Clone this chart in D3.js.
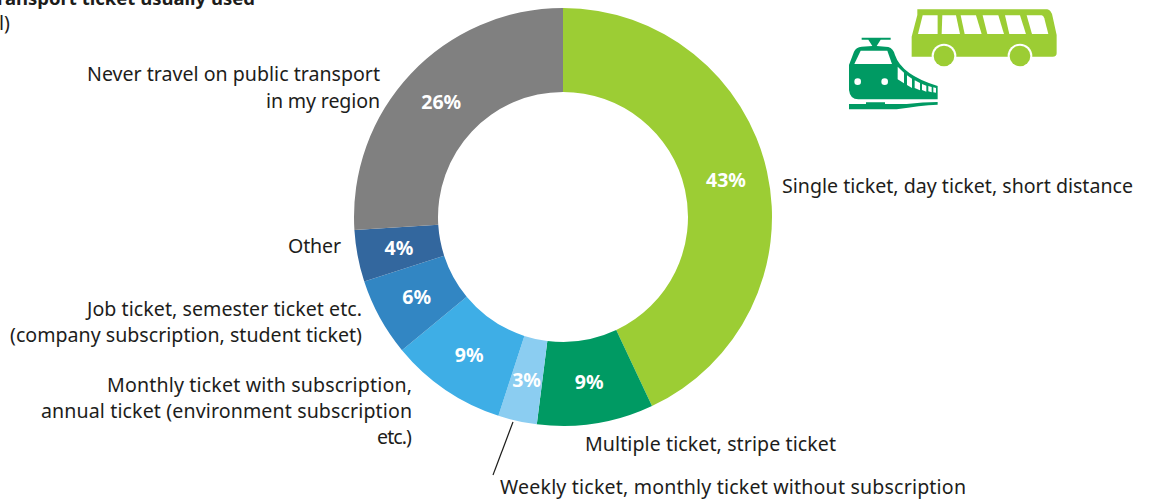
<!DOCTYPE html>
<html><head><meta charset="utf-8">
<script src="https://cdn.jsdelivr.net/npm/d3@7"></script>
<style>
html,body{margin:0;padding:0;background:#fff;overflow:hidden}
text{font-family:"Noto Sans","Open Sans",sans-serif;font-size:19.6px;fill:#1d1d1b}
</style></head><body>
<svg id="c" width="1150" height="500"></svg>
<script>
const categories=["Single ticket, day ticket, short distance","Multiple ticket, stripe ticket","Weekly ticket, monthly ticket without subscription","Monthly ticket with subscription, annual ticket (environment subscription etc.)","Job ticket, semester ticket etc. (company subscription, student ticket)","Other","Never travel on public transport in my region"];
const values=[43,9,3,9,6,4,26];
const colors=["#9ccd34","#009a63","#8bcdf1","#3eaee6","#3286c3","#33679e","#808080"];
const labelLines=[
 ["Single ticket, day ticket, short distance"],
 ["Multiple ticket, stripe ticket"],
 ["Weekly ticket, monthly ticket without subscription"],
 ["Monthly ticket with subscription,","annual ticket (environment subscription","etc.)"],
 ["Job ticket, semester ticket etc.","(company subscription, student ticket)"],
 ["Other"],
 ["Never travel on public transport","in my region"]];
const labelWidths=[[351],[251],[466],[305,371,35],[275,352],[53],[293,114]];
const labelX=[782,585,500,412,362,341,380];
const labelY=[193,451,494,392,316,253,81];
const labelAnchor=["start","start","start","end","end","end","end"];
const lineStep=[0,0,0,26,26,0,27];
const svg=d3.select("#c");
const cx=563,cy=217,R=209,r=125;
const g=svg.append("g").attr("transform",`translate(${cx},${cy})`);
const pie=d3.pie().sort(null).value(d=>d)(values);
const arc=d3.arc().innerRadius(r).outerRadius(R);
g.selectAll("path").data(pie).join("path").attr("d",arc).attr("fill",(d,i)=>colors[i]);
const lr=d3.arc().innerRadius(167).outerRadius(167);
g.selectAll("text").data(pie).join("text")
 .attr("transform",d=>`translate(${lr.centroid(d)})`)
 .attr("text-anchor","middle").attr("dy","0.34em")
 .style("fill","#fff").style("font-weight","700").style("font-size","19.5px")
 .text(d=>d.data+"%");
labelLines.forEach((ls,i)=>{
 ls.forEach((t,j)=>svg.append("text").attr("x",labelX[i]).attr("y",labelY[i]+j*lineStep[i])
  .attr("text-anchor",labelAnchor[i]).attr("textLength",labelWidths[i][j]).attr("lengthAdjust","spacing").text(t));
});
svg.append("line").attr("x1",513).attr("y1",422).attr("x2",493).attr("y2",475).attr("stroke","#1d1d1b").attr("stroke-width",1.2);
svg.append("text").attr("x",255).attr("y",5).attr("text-anchor","end").style("font-weight","700").style("font-size","18.5px").text("Public transport ticket usually used");
svg.append("text").attr("x",10).attr("y",30).attr("text-anchor","end").text("(total)");
// icons (traced in 3x crop space)
const ic=svg.append("g").attr("transform","translate(830,0) scale(0.3333)");
const G="#9ccd34",T="#009a63";
ic.append("path").attr("fill",G).attr("d","M262 28H652Q664 30 668 50L680 105V160Q680 170 668 170H245V110L262 45Z");
["M278 46H323V102H264Z","M337 46H378L390 102H335Z","M392 46H438L455 102H404Z","M458 46H505L522 102H472Z","M525 46H570L588 102H538Z","M590 46H635Q640 46 643 55L655 102H606Z"]
 .forEach(d=>ic.append("path").attr("fill","#fff").attr("d",d));
[[342,168],[570,168]].forEach(p=>{
 ic.append("circle").attr("cx",p[0]).attr("cy",p[1]).attr("r",37).attr("fill","#fff");
 ic.append("circle").attr("cx",p[0]).attr("cy",p[1]).attr("r",31).attr("fill",G);
});
ic.append("path").attr("fill",T).attr("d","M95 113H182V119H152L140 138L175 141Q190 145 195 165Q215 225 323 258V298H85Q60 298 57 270V195L72 155Q78 142 95 140L127 138L115 119H95Z");
ic.append("path").attr("fill","#fff").attr("d","M92 152H172L186 192H73Z");
[[83,245],[164,245]].forEach(p=>ic.append("circle").attr("cx",p[0]).attr("cy",p[1]).attr("r",10).attr("fill","#fff"));
["M203 200L222 218V250L203 238Z","M231 226L246 236V264L231 255Z","M254 241L270 249V271L254 264Z","M276 252L289 257V275L276 270Z","M295 258L305 261V277L295 274Z","M310 262L318 264V278L310 277Z"]
 .forEach(d=>ic.append("path").attr("fill","#fff").attr("d",d));
ic.append("path").attr("fill",T).attr("d","M57 312H108V307H165V312H230Q280 306 323 306V314Q270 316 200 328H57Z");
</script>
</body></html>
